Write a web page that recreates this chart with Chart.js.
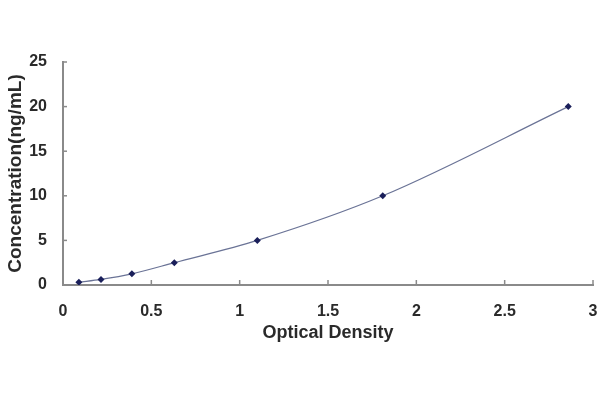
<!DOCTYPE html>
<html>
<head>
  <meta charset="UTF-8">
  <title>Standard Curve</title>
  <script src="https://cdn.jsdelivr.net/npm/chart.js"></script>
  <style>
    html, body { margin: 0; padding: 0; background: #fff; }
    #wrap { width: 600px; height: 400px; }
  </style>
</head>
<body>
  <div id="wrap"><canvas id="curveChart" width="600" height="400"></canvas></div>

  <script>
    // standard points
    const opticalDensity = [0.09, 0.215, 0.39, 0.63, 1.10, 1.81, 2.86];
    const concentration = [0.31, 0.63, 1.25, 2.5, 5, 10, 20];
    const xTicks = [0, 0.5, 1, 1.5, 2, 2.5, 3];
    const yTicks = [0, 5, 10, 15, 20, 25];

    const axisColor = '#8a8a8a';
    const textColor = '#2a2a2a';
    const font = { family: '"Liberation Sans", Arial, sans-serif', size: 16, weight: 'bold' };

    // short tick marks pointing into the plot
    const innerTicks = {
      id: 'innerTicks',
      afterDraw(chart) {
        const { ctx, scales: { x, y } } = chart;
        ctx.save();
        ctx.strokeStyle = axisColor;
        ctx.lineWidth = 1.5;
        xTicks.forEach(v => {
          const px = x.getPixelForValue(v);
          ctx.beginPath();
          ctx.moveTo(px, y.bottom);
          ctx.lineTo(px, y.bottom - 5);
          ctx.stroke();
        });
        yTicks.forEach(v => {
          const py = y.getPixelForValue(v);
          ctx.beginPath();
          ctx.moveTo(x.left, py);
          ctx.lineTo(x.left + 4, py);
          ctx.stroke();
        });
        ctx.restore();
      }
    };

    new Chart(document.getElementById('curveChart').getContext('2d'), {
      type: 'scatter',
      data: {
        datasets: [{
          data: opticalDensity.map((v, i) => ({ x: v, y: concentration[i] })),
          showLine: true,
          borderColor: '#6a7396',
          borderWidth: 1.2,
          tension: 0.4,
          cubicInterpolationMode: 'monotone',
          pointStyle: 'rectRot',
          pointRadius: 3.5,
          pointBackgroundColor: '#1a1f5a',
          pointBorderColor: '#1a1f5a',
          pointBorderWidth: 0
        }]
      },
      options: {
        responsive: false,
        animation: false,
        layout: { padding: { top: 62, right: 7, bottom: 52, left: 0 } },
        plugins: { legend: { display: false }, tooltip: { enabled: false } },
        scales: {
          x: {
            type: 'linear',
            min: 0, max: 3,
            afterBuildTicks(s) { s.ticks = xTicks.map(v => ({ value: v })); },
            afterFit(s) { s.height = 63; s.paddingRight = 0; s.paddingLeft = 0; },
            grid: { display: false },
            border: { color: axisColor, width: 2 },
            ticks: { color: textColor, font, padding: 9, maxRotation: 0, callback: v => String(v) },
            title: { display: true, text: 'Optical Density', color: textColor, font: { ...font, size: 18 }, padding: { top: 2 } }
          },
          y: {
            type: 'linear',
            min: 0, max: 25,
            afterBuildTicks(s) { s.ticks = yTicks.map(v => ({ value: v })); },
            afterFit(s) { s.width = 63; },
            grid: { display: false },
            border: { color: axisColor, width: 2 },
            ticks: { color: textColor, font, padding: 8 },
            title: { display: true, text: 'Concentration(ng/mL)', color: textColor, font: { ...font, size: 19 }, padding: { bottom: 2 } }
          }
        }
      },
      plugins: [innerTicks]
    });
  </script>
</body>
</html>
